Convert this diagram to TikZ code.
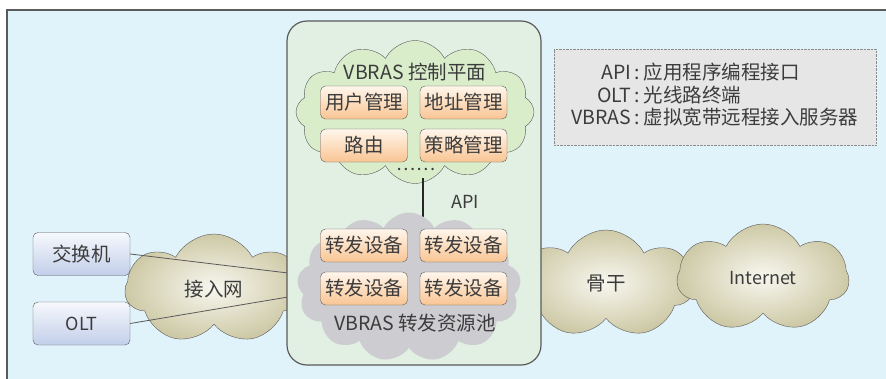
\documentclass[tikz,border=0pt]{standalone}
\usepackage{fontspec}
\setmainfont{Noto Sans CJK SC}
\usetikzlibrary{shapes.symbols}

\definecolor{bgblue}{HTML}{E0F2FA}
\definecolor{frameline}{HTML}{5A5A5A}
\definecolor{panelgreen}{HTML}{E2F0E4}
\definecolor{ctrlgreen}{HTML}{D9EDCB}
\definecolor{poolgray}{HTML}{CDCDD1}
\definecolor{sandin}{HTML}{F8F7EF}
\definecolor{sandout}{HTML}{CDC9A6}
\definecolor{devtop}{HTML}{FFF6EC}
\definecolor{devbot}{HTML}{F9C593}
\definecolor{acctop}{HTML}{F6F8FC}
\definecolor{accbot}{HTML}{C2CFEA}
\definecolor{legendgray}{HTML}{E6E6E6}
\definecolor{txtgray}{HTML}{3C3C3C}

\tikzset{
  devbox/.style={draw=frameline, rounded corners=5pt, top color=devtop,
    bottom color=devbot, minimum width=87pt, minimum height=33pt, inner sep=0pt},
  accbox/.style={draw=frameline, rounded corners=5pt, top color=acctop,
    bottom color=accbot, minimum width=97pt, minimum height=43pt, inner sep=0pt},
  netcloud/.style={cloud, cloud puffs=7, cloud puff arc=125, cloud ignores aspect,
    draw=frameline, inner color=sandin, outer color=sandout, inner sep=0pt},
  linkline/.style={draw=frameline, line width=0.8pt},
  latin/.style={font=\fontsize{18}{21}\selectfont}
}

\begin{document}
\begin{tikzpicture}[x=1pt, y=-1pt, font=\fontsize{19.5}{21}\selectfont, text=txtgray]
    \useasboundingbox (0,0) rectangle (886,378);
    % Draw the background frame
    \fill[white] (0,0) rectangle (886,378);
    \draw[frameline, line width=1.5pt, fill=bgblue] (7,10) rectangle (900,392);
    % Draw the outer networks
    \node[netcloud, minimum width=178pt, minimum height=110pt] (access) at (214,289) {接入网};
    \node[netcloud, minimum width=176pt, minimum height=108pt] (backbone) at (606,284) {骨干};
    \node[netcloud, latin, minimum width=172pt, minimum height=108pt] (internet) at (763,278) {Internet};
    % Draw the access devices and their links
    \coordinate (edgeA) at (288,273);
    \coordinate (edgeB) at (288,297);
    \node[accbox] (switch) at (81.5,254) {交换机};
    \node[accbox, latin] (olt) at (81.5,323.5) {OLT};
    \draw[linkline] (switch.east) -- (edgeA);
    \draw[linkline] (olt.east) -- (edgeB);
    % Draw the VBRAS panel
    \draw[frameline, line width=1.2pt, fill=panelgreen, rounded corners=20pt] (287,21) rectangle (541,365);
    % Draw the control plane
    \node[cloud, cloud puffs=12, cloud puff arc=125, cloud ignores aspect, draw=frameline,
        fill=ctrlgreen, minimum width=238pt, minimum height=143pt] (ctrl) at (415,112) {};
    \node (ctrltitle) at (415,72) {VBRAS 控制平面};
    \foreach \name/\x/\y/\txt in {user/364/102.5/用户管理, addr/463.5/102.5/地址管理,
            route/364/145.5/路由, policy/463.5/145.5/策略管理} {
            \node[devbox] (\name) at (\x,\y) {\txt};
        }
    \node[latin] (more) at (416,169) {……};
    % Draw the API link
    \coordinate (apitop) at (423,178);
    \coordinate (apibot) at (423,218);
    \draw[line width=1.6pt, black!85] (apitop) -- (apibot);
    \node[latin] (api) at (465,202) {API};
    % Draw the forwarding pool
    \node[cloud, cloud puffs=13, cloud puff arc=125, cloud ignores aspect,
        fill=poolgray, minimum width=224pt, minimum height=149pt] (pool) at (409,287) {};
    \foreach \i/\x/\y in {1/364/245.5, 2/463.5/245.5, 3/364/288.5, 4/463.5/288.5} {
            \node[devbox] (fwd\i) at (\x,\y) {转发设备};
        }
    \node (pooltitle) at (415,323) {VBRAS 转发资源池};
    % Draw the legend
    \node[draw=black!45, densely dotted, fill=legendgray, minimum width=322pt,
        minimum height=96pt] (legend) at (715,97) {};
    \node[inner sep=0pt] (legendtext) at (legend.center) {%
        \begin{tabular}{@{}r@{\hspace{3pt}:\hspace{4pt}}l@{}}
            API   & 应用程序编程接口 \\
            OLT   & 光线路终端 \\
            VBRAS & 虚拟宽带远程接入服务器
        \end{tabular}};
\end{tikzpicture}
\end{document}
